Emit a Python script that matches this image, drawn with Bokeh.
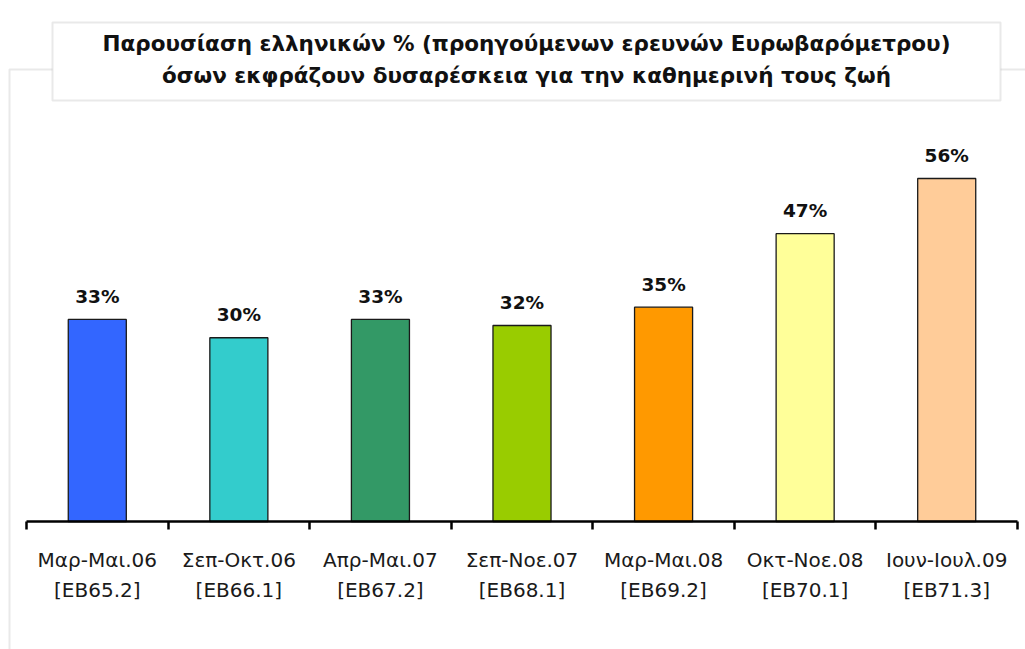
from bokeh.plotting import figure
from bokeh.models import (Range1d, FixedTicker, LinearAxis, BoxAnnotation, Label,
                          ColumnDataSource)
from bokeh.core.properties import value
from bokeh.embed import file_html
from bokeh.resources import INLINE

# ---- data ----
periods = ["Μαρ-Μαι.06", "Σεπ-Οκτ.06", "Απρ-Μαι.07", "Σεπ-Νοε.07",
           "Μαρ-Μαι.08", "Οκτ-Νοε.08", "Ιουν-Ιουλ.09"]
surveys = ["[EB65.2]", "[EB66.1]", "[EB67.2]", "[EB68.1]",
           "[EB69.2]", "[EB70.1]", "[EB71.3]"]
values = [33, 30, 33, 32, 35, 47, 56]
colors = ["#3366FF", "#33CCCC", "#339966", "#99CC00",
          "#FF9900", "#FFFF99", "#FFCC99"]
title_lines = ["Παρουσίαση ελληνικών % (προηγούμενων ερευνών Ευρωβαρόμετρου)",
               "όσων εκφράζουν δυσαρέσκεια για την καθημερινή τους ζωή"]

n = len(values)
xs = [i + 0.5 for i in range(n)]
src = ColumnDataSource(dict(x=xs, top=values, color=colors,
                            label=[f"{v}%" for v in values]))

W, H = 1025, 649
# frame covers whole canvas; axis is pinned at y=0 inside it
px_x = (1017 - 26) / n       # pixels per category
px_y = 6.125                 # pixels per percent
x0_px, y0_px = 26, 521       # where (0, 0) falls on the canvas
p = figure(width=W, height=H, output_backend="svg", toolbar_location=None,
           x_range=Range1d(-x0_px / px_x, (W - x0_px) / px_x),
           y_range=Range1d(-(H - y0_px) / px_y, y0_px / px_y),
           x_axis_type=None, y_axis_type=None,
           min_border=0)
p.outline_line_color = None
p.xgrid.visible = False
p.ygrid.visible = False
p.background_fill_color = "white"
p.border_fill_color = "white"

BORDER = "#B6B6B6"
# outer chart border (partly hidden behind the title box); screen units = y up
p.add_layout(BoxAnnotation(left=9, right=W + 60, top=H - 69, bottom=-60,
                           left_units="screen", right_units="screen",
                           top_units="screen", bottom_units="screen",
                           fill_color=None, line_color=BORDER, line_width=2))
# title box
p.add_layout(BoxAnnotation(left=52, right=1000, top=H - 22, bottom=H - 100,
                           left_units="screen", right_units="screen",
                           top_units="screen", bottom_units="screen",
                           fill_color="white", fill_alpha=1.0,
                           line_color=BORDER, line_width=2))
p.add_layout(Label(x=526, y=H - 59, x_units="screen", y_units="screen",
                   text="\n".join(title_lines), text_align="center",
                   text_baseline="middle", text_font="DejaVu Sans",
                   text_font_style="bold", text_font_size="21.5px",
                   text_color="#111111", text_line_height=1.27))

p.vbar(x="x", top="top", bottom=0, width=0.41, fill_color="color",
       line_color="#1a1a1a", line_width=1.3, source=src)
p.text(x="x", y="top", text="label", source=src, text_align="center",
       text_baseline="alphabetic", y_offset=-23,
       text_font=value("DejaVu Sans"), text_font_style="bold",
       text_font_size="18.5px", text_color="#111111")

ax = LinearAxis(ticker=FixedTicker(ticks=xs, minor_ticks=list(range(n + 1))),
                fixed_location=0, bounds=(0, n))
ax.major_label_overrides = {x: f"{a}\n{b}" for x, a, b in zip(xs, periods, surveys)}
ax.axis_line_color = "black"
ax.axis_line_width = 2.5
ax.major_tick_line_color = None
ax.major_tick_out = 0
ax.major_tick_in = 0
ax.minor_tick_line_color = "black"
ax.minor_tick_line_width = 2.5
ax.minor_tick_out = 8
ax.minor_tick_in = 0
ax.major_label_standoff = 18
ax.major_label_text_font = "DejaVu Sans"
ax.major_label_text_font_size = "20px"
ax.major_label_text_color = "#1a1a1a"
ax.major_label_text_line_height = 1.25
p.add_layout(ax, "below")

open("out.html", "w").write(file_html(p, INLINE))
